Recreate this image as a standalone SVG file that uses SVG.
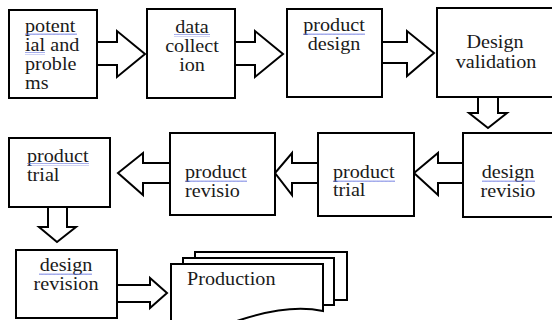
<svg xmlns="http://www.w3.org/2000/svg" width="552" height="320" viewBox="0 0 552 320">
<style>
.box{fill:#fff;stroke:#000;stroke-width:2}
.arr{fill:#fff;stroke:#000;stroke-width:2;stroke-linejoin:miter}
.t{font-family:'Liberation Serif','Times New Roman',Tinos,'DejaVu Serif',serif;font-size:18px;fill:#1a1a1a}
.c{text-anchor:middle}
.sq{fill:url(#squig)}
</style>
<defs>
<pattern id="squig" width="4" height="3" patternUnits="userSpaceOnUse">
<path d="M0,2 L1,0.5 L2,2 L3,0.5 L4,2" fill="none" stroke="#6a78e0" stroke-width="0.7"/>
</pattern>
</defs>
<rect width="552" height="320" fill="#fff"/>
<g id="connectors">
<polygon class="arr" points="97,42 117,42 117,31 145,54 117,77 117,65 97,65"/>
<polygon class="arr" points="235,42 255,42 255,31 283,54 255,77 255,65 235,65"/>
<polygon class="arr" points="382,42 407,42 407,31 434,53 407,76 407,63 382,63"/>
<polygon class="arr" points="478,97 478,113 469,113 488,128 507,113 498,113 498,97"/>
<polygon class="arr" points="463,163 438,163 438,153 414,173 438,195 438,183 463,183"/>
<polygon class="arr" points="318,163 292,163 292,153 275,173 292,195 292,183 318,183"/>
<polygon class="arr" points="170,163 143,163 143,153 118,173 143,195 143,183 170,183"/>
<polygon class="arr" points="48,207 48,227 39,227 57,242 76,227 67,227 67,207"/>
<polygon class="arr" points="117,285 150,285 150,278 167,293 150,308 150,302 117,302"/>
</g>
<g id="n1">
<rect class="box" x="9" y="10" width="88" height="88"/>
<text class="t" font-family="Liberation Serif, serif" transform="translate(25,32) scale(1.12,1)">potent</text>
<text class="t" font-family="Liberation Serif, serif" transform="translate(25,51) scale(1.12,1)">ial and</text>
<text class="t" font-family="Liberation Serif, serif" transform="translate(25,70) scale(1.12,1)">proble</text>
<text class="t" font-family="Liberation Serif, serif" transform="translate(25,89) scale(1.12,1)">ms</text>
<rect class="sq" x="25" y="33" width="52" height="3"/>
<rect class="sq" x="25" y="52" width="20" height="3"/>
</g>
<g id="n2">
<rect class="box" x="147" y="9" width="88" height="89"/>
<text class="t c" transform="translate(192,33) scale(1.12,1)">data</text>
<text class="t c" transform="translate(192,52) scale(1.12,1)">collect</text>
<text class="t c" transform="translate(192,71) scale(1.12,1)">ion</text>
<rect class="sq" x="174" y="34" width="36" height="3"/>
</g>
<g id="n3">
<rect class="box" x="287" y="9" width="95" height="88"/>
<text class="t c" transform="translate(334,31) scale(1.12,1)">product</text>
<text class="t c" transform="translate(334,50) scale(1.12,1)">design</text>
<rect class="sq" x="303" y="32" width="62" height="3"/>
</g>
<g id="n4">
<rect class="box" x="437" y="8" width="125" height="89"/>
<text class="t c" transform="translate(495,48) scale(1.12,1)">Design</text>
<text class="t c" transform="translate(496,68) scale(1.12,1)">validation</text>
</g>
<g id="n5">
<rect class="box" x="463" y="133" width="99" height="84"/>
<text class="t c" transform="translate(508,178) scale(1.12,1)">design</text>
<text class="t c" transform="translate(508,197) scale(1.12,1)">revisio</text>
<rect class="sq" x="482" y="179" width="53" height="3"/>
</g>
<g id="n6">
<rect class="box" x="318" y="133" width="96" height="83"/>
<text class="t" transform="translate(333,178) scale(1.12,1)">product</text>
<text class="t" transform="translate(333,196) scale(1.12,1)">trial</text>
<rect class="sq" x="333" y="179" width="62" height="3"/>
</g>
<g id="n7">
<rect class="box" x="170" y="133" width="105" height="82"/>
<text class="t" transform="translate(185,178) scale(1.12,1)">product</text>
<text class="t" transform="translate(185,197) scale(1.12,1)">revisio</text>
<rect class="sq" x="185" y="179" width="62" height="3"/>
</g>
<g id="n8">
<rect class="box" x="9" y="138" width="101" height="69"/>
<text class="t" transform="translate(27,162) scale(1.12,1)">product</text>
<text class="t" transform="translate(27,181) scale(1.12,1)">trial</text>
<rect class="sq" x="27" y="163" width="62" height="3"/>
</g>
<g id="n9">
<rect class="box" x="16" y="250" width="101" height="68"/>
<text class="t c" transform="translate(66,271) scale(1.12,1)">design</text>
<text class="t c" transform="translate(66,290) scale(1.12,1)">revision</text>
<rect class="sq" x="39" y="272" width="53" height="3"/>
</g>
<g id="n10">
<rect class="box" x="195" y="252" width="152" height="48"/>
<rect class="box" x="183" y="258" width="151" height="47"/>
<path class="box" d="M171,264 H323 V311 C300,306 270,310 240,320 C215,328 190,330 171,327 Z"/>
<text class="t" transform="translate(187,285) scale(1.12,1)">Production</text>
</g>
</svg>
